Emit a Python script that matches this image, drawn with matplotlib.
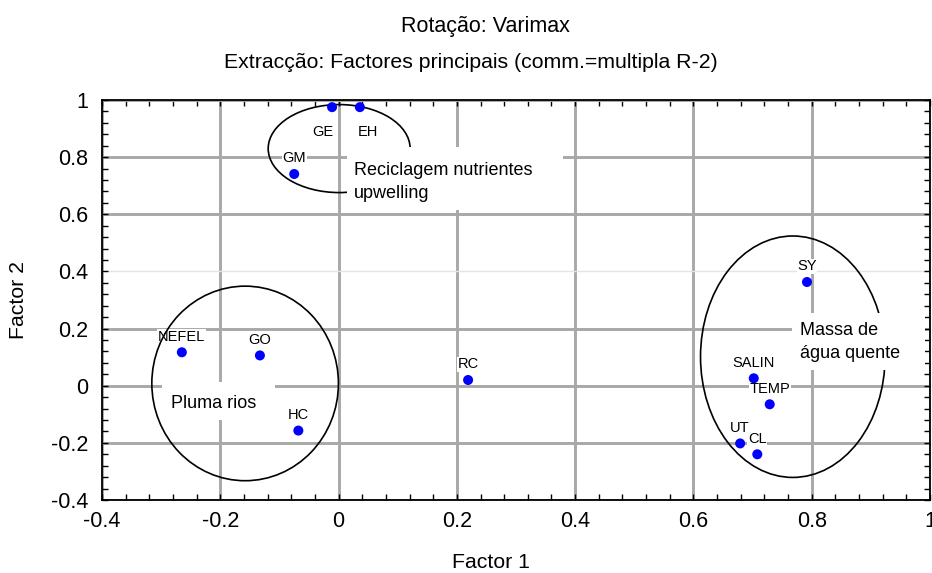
import matplotlib
matplotlib.use('Agg')
import matplotlib.pyplot as plt
from matplotlib.patches import Ellipse, Rectangle
from matplotlib.ticker import MultipleLocator

plt.rcParams['font.family'] = ['Liberation Sans', 'DejaVu Sans']

# factor loadings
labels = ['GE', 'EH', 'GM', 'SY', 'SALIN', 'TEMP', 'UT', 'CL', 'NEFEL', 'GO', 'HC', 'RC']
factor1 = [-0.011, 0.036, -0.075, 0.792, 0.702, 0.729, 0.679, 0.708, -0.265, -0.133, -0.068, 0.219]
factor2 = [0.975, 0.975, 0.741, 0.363, 0.026, -0.065, -0.202, -0.240, 0.117, 0.106, -0.157, 0.020]

title1 = 'Rotação: Varimax'
title2 = 'Extracção: Factores principais (comm.=multipla R-2)'

# group annotations: text, ellipse (cx, cy, w, h), text anchor, white box (x0, y0, x1, y1)
groups = [
    ('Reciclagem nutrientes\nupwelling', (0.001, 0.830, 0.240, 0.308), (0.0265, 0.713), (0.0145, 0.615, 0.380, 0.8355)),
    ('Massa de\nágua quente', (0.768, 0.1015, 0.312, 0.845), (0.780, 0.153), (0.767, 0.055, 0.992, 0.254)),
    ('Pluma rios', (-0.158, 0.008, 0.3155, 0.681), (-0.284, -0.0616), (-0.2986, -0.120, -0.1075, 0.013)),
]

# label offsets in pixels (default straight above the point)
label_offsets = {'GE': (-9, -25), 'EH': (8, -25)}

fig = plt.figure(figsize=(9.32, 5.73), dpi=100)
ax = fig.add_axes([102 / 932, 1 - 500 / 573, 828 / 932, 400 / 573])

ax.set_xlim(-0.4, 1.0)
ax.set_ylim(-0.4, 1.0)
ax.xaxis.set_major_locator(MultipleLocator(0.2))
ax.yaxis.set_major_locator(MultipleLocator(0.2))
ax.xaxis.set_minor_locator(MultipleLocator(0.04))
ax.yaxis.set_minor_locator(MultipleLocator(0.04))
fmt = lambda v, p: '0' if abs(v) < 1e-9 else ('%g' % round(v, 2))
ax.xaxis.set_major_formatter(fmt)
ax.yaxis.set_major_formatter(fmt)

ax.set_axisbelow(True)
ax.grid(True, which='major', color='#a8a8a8', linewidth=2.1)
for gl, v in zip(ax.get_ygridlines(), ax.get_yticks()):
    if abs(v - 0.4) < 1e-9:
        gl.set_color('#e4e4e4')
        gl.set_linewidth(1.0)

ax.tick_params(which='both', direction='in', top=True, right=True, width=1, labelsize=15.5)
ax.tick_params(which='major', length=4)
ax.tick_params(which='minor', length=4)
ax.tick_params(axis='x', which='major', pad=8)
ax.tick_params(axis='y', which='major', pad=10)
for s in ax.spines.values():
    s.set_linewidth(1.3)

ax.set_xlabel('Factor 1', fontsize=15.3)
ax.set_ylabel('Factor 2', fontsize=15.3)
ax.xaxis.set_label_coords((491 - 102) / 828, -0.132)
ax.yaxis.set_label_coords((28 - 102) / 828, 0.5)

# point labels with white background
for name, x, y in zip(labels, factor1, factor2):
    dx, dy = label_offsets.get(name, (0, 15.5))
    ax.annotate(name, (x, y), xytext=(dx, dy), textcoords='offset pixels',
                ha='center', va='center', fontsize=10.5, zorder=3,
                bbox=dict(boxstyle='square,pad=0.05', fc='white', ec='none'))

for text, (cx, cy, w, h), (tx, ty), (x0, y0, x1, y1) in groups:
    ax.add_patch(Ellipse((cx, cy), w, h, fill=False, ec='black', lw=1.2, zorder=4))
    ax.add_patch(Rectangle((x0, y0), x1 - x0, y1 - y0, fc='white', ec='none', zorder=5))
    ax.text(tx, ty, text, ha='left', va='center', fontsize=13, linespacing=1.45, zorder=6)

ax.scatter(factor1, factor2, s=52, color='#0000ff', edgecolors='none', zorder=7, clip_on=False)

fig.text(401 / 932, 1 - 32.3 / 573, title1, ha='left', va='baseline', fontsize=15.5)
fig.text(470.5 / 932, 1 - 68.3 / 573, title2, ha='center', va='baseline', fontsize=15.3)

fig.savefig('out.png', dpi=100)
